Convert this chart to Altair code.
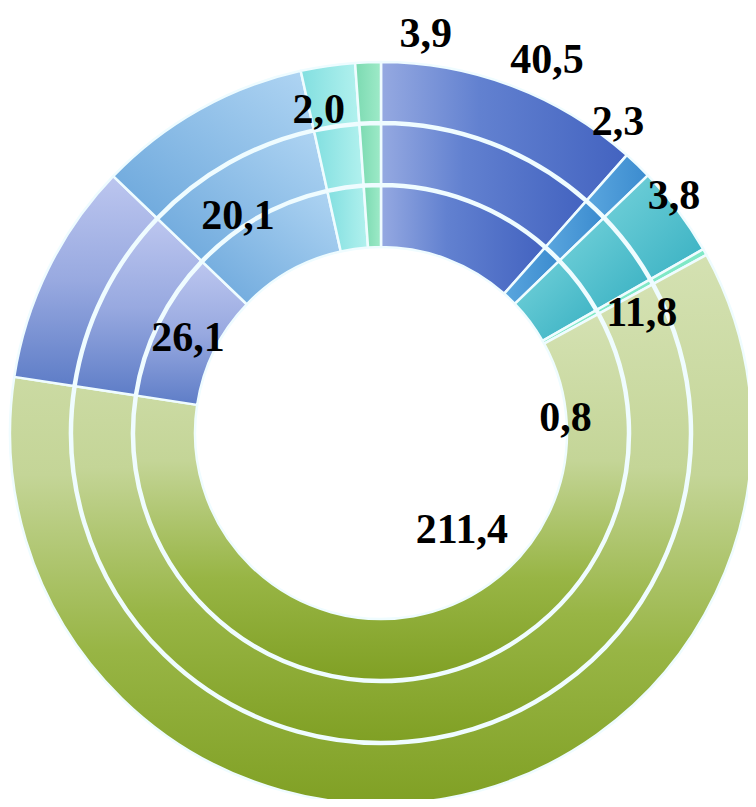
import altair as alt
import pandas as pd

# --- data ---
SEGMENTS = ["s1", "s2", "s3", "s4", "s5", "s6", "s7", "s8", "s9"]
# angular share of each slice, clockwise from 12 o'clock (degrees of the ring)
SHARES = [41.5, 4.5, 14.3, 1.0, 217.4, 35.1, 33.7, 8.5, 4.0]
LABELS = ["3,9", "40,5", "2,3", "3,8", "11,8", "0,8", "211,4", "26,1", "20,1", "2,0"]

# --- label layout (polar position of each label text) ---
LABEL_ANGLE = [6.4, 24.0, 37.3, 51.0, 65.3, 85.3, 140.1, 296.2, 326.6, 349.1]
LABEL_RADIUS = [401, 408, 391, 377, 287, 185, 126, 215, 260, 329]

# --- styles ---
def lin(stops, x1=0, y1=0, x2=1, y2=0):
    return alt.Gradient(
        gradient="linear", x1=x1, y1=y1, x2=x2, y2=y2,
        stops=[alt.GradientStop(offset=o, color=c) for o, c in stops],
    )

FILLS = {
    "s1": lin([(0, "#95a9e1"), (0.4, "#6281d0"), (1, "#4363c0")]),
    "s2": lin([(0, "#5aa6de"), (1, "#3b8bcf")]),
    "s3": lin([(0, "#74d2da"), (1, "#38b0c2")], 0, 0, 1, 1),
    "s4": "#7fe8c6",
    "s5": lin([(0, "#d4e1b2"), (0.4, "#c4d597"), (0.72, "#98b545"), (1, "#80a024")], 0, 0, 0, 1),
    "s6": lin([(0, "#bcc6ef"), (0.5, "#98a9e0"), (1, "#5e7dc7")], 0, 0, 0, 1),
    "s7": lin([(0, "#b0d5f3"), (1, "#6aa6db")], 1, 0, 0, 1),
    "s8": lin([(0, "#82dfe0"), (1, "#b2f1ee")]),
    "s9": lin([(0, "#7bdab1"), (1, "#9eeac8")]),
}
RINGS = [(371, 311), (309, 249), (247, 186)]

seg_df = pd.DataFrame({"seg": SEGMENTS, "share": SHARES, "order": list(range(len(SEGMENTS)))})
lab_df = pd.DataFrame({"label": LABELS, "angle": LABEL_ANGLE, "r": LABEL_RADIUS})

theta_scale = alt.Scale(domain=[0, 360])

base = (
    alt.Chart(seg_df)
    .transform_window(cum="sum(share)", sort=[alt.SortField("order")], frame=[None, 0])
    .transform_calculate(start="datum.cum - datum.share")
)

layers = []
for ro, ri in RINGS:
    for s in SEGMENTS:
        layers.append(
            base.transform_filter(alt.datum.seg == s)
            .mark_arc(radius=ro, radius2=ri, fill=FILLS[s], stroke="#effcff",
                      strokeWidth=2.5, strokeJoin="round")
            .encode(theta=alt.Theta("start:Q", scale=theta_scale), theta2="cum:Q")
        )

text = (
    alt.Chart(lab_df)
    .mark_text(font="Liberation Serif", fontSize=42, fontWeight="bold", align="center",
               baseline="middle", color="#000000")
    .encode(
        theta=alt.Theta("angle:Q", scale=theta_scale),
        radius=alt.Radius("r:Q", scale=alt.Scale(type="linear", domain=[0, 400], range=[0, 400])),
        text="label:N",
    )
)

chart = (
    alt.layer(*layers, text)
    .properties(width=734, height=732, padding={"left": 6, "top": 59, "right": 0, "bottom": 0},
                autosize="none", background="white")
    .configure_view(stroke=None)
)

chart.save("out.html", embed_options={"renderer": "svg", "actions": False})
